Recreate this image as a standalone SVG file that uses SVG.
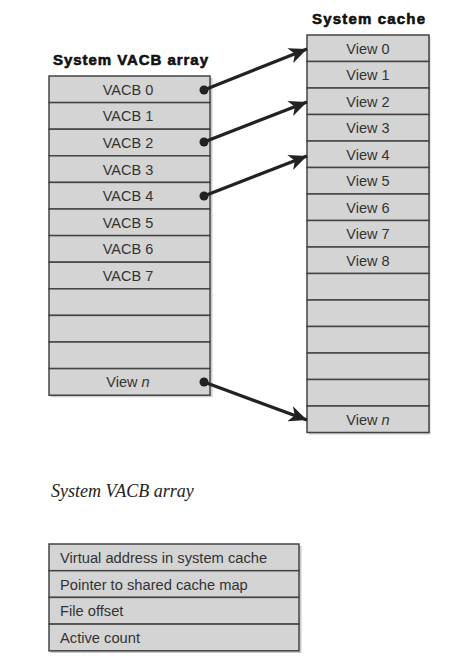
<svg xmlns="http://www.w3.org/2000/svg" width="460" height="665" viewBox="0 0 460 665">
<defs>
<marker id="ah" markerUnits="userSpaceOnUse" markerWidth="20" markerHeight="16" refX="18" refY="8" orient="auto">
<path d="M0,0 L18,8 L0,16 L5,8 Z" fill="#222"/>
</marker>
</defs>
<style>
.cell{fill:#d4d4d4;stroke:#444;stroke-width:1.5}
.shadow{fill:#aaa;opacity:0.6}
.t{font-family:"Liberation Sans",Arial,sans-serif;font-size:14.5px;fill:#333;text-anchor:middle}
.tl{font-family:"Liberation Sans",Arial,sans-serif;font-size:14.7px;fill:#333}
.title{font-family:"Liberation Sans",Arial,sans-serif;font-size:15px;font-weight:bold;fill:#111;stroke:#111;stroke-width:0.6}
.cap{font-family:"Liberation Serif","Times New Roman",serif;font-size:18px;font-style:italic;fill:#222}
.conn{stroke:#222;stroke-width:3.2;fill:none;marker-end:url(#ah)}
.dot{fill:#222}
</style>
<rect width="460" height="665" fill="#fff"/>
<text class="title" x="53" y="65" textLength="155">System VACB array</text>
<text class="title" x="312" y="24" textLength="113">System cache</text>
<g id="vacb-array">
<rect class="shadow" x="50.5" y="78" width="162" height="319.2"/>
<rect class="cell" x="49" y="76" width="161" height="26.6"/>
<rect class="cell" x="49" y="102.6" width="161" height="26.6"/>
<rect class="cell" x="49" y="129.2" width="161" height="26.6"/>
<rect class="cell" x="49" y="155.8" width="161" height="26.6"/>
<rect class="cell" x="49" y="182.4" width="161" height="26.6"/>
<rect class="cell" x="49" y="209" width="161" height="26.6"/>
<rect class="cell" x="49" y="235.6" width="161" height="26.6"/>
<rect class="cell" x="49" y="262.2" width="161" height="26.6"/>
<rect class="cell" x="49" y="288.8" width="161" height="26.6"/>
<rect class="cell" x="49" y="315.4" width="161" height="26.6"/>
<rect class="cell" x="49" y="342" width="161" height="26.6"/>
<rect class="cell" x="49" y="368.6" width="161" height="26.6"/>
<text class="t" x="128" y="94.8">VACB 0</text>
<text class="t" x="128" y="121.4">VACB 1</text>
<text class="t" x="128" y="148">VACB 2</text>
<text class="t" x="128" y="174.6">VACB 3</text>
<text class="t" x="128" y="201.2">VACB 4</text>
<text class="t" x="128" y="227.8">VACB 5</text>
<text class="t" x="128" y="254.4">VACB 6</text>
<text class="t" x="128" y="281">VACB 7</text>
<text class="t" x="128" y="387.4">View <tspan font-style="italic">n</tspan></text>
</g>
<g id="system-cache">
<rect class="shadow" x="308.5" y="37" width="122" height="397.5"/>
<rect class="cell" x="307" y="35" width="122" height="26.5"/>
<rect class="cell" x="307" y="61.5" width="122" height="26.5"/>
<rect class="cell" x="307" y="88" width="122" height="26.5"/>
<rect class="cell" x="307" y="114.5" width="122" height="26.5"/>
<rect class="cell" x="307" y="141" width="122" height="26.5"/>
<rect class="cell" x="307" y="167.5" width="122" height="26.5"/>
<rect class="cell" x="307" y="194" width="122" height="26.5"/>
<rect class="cell" x="307" y="220.5" width="122" height="26.5"/>
<rect class="cell" x="307" y="247" width="122" height="26.5"/>
<rect class="cell" x="307" y="273.5" width="122" height="26.5"/>
<rect class="cell" x="307" y="300" width="122" height="26.5"/>
<rect class="cell" x="307" y="326.5" width="122" height="26.5"/>
<rect class="cell" x="307" y="353" width="122" height="26.5"/>
<rect class="cell" x="307" y="379.5" width="122" height="26.5"/>
<rect class="cell" x="307" y="406" width="122" height="26.5"/>
<text class="t" x="368" y="53.8">View 0</text>
<text class="t" x="368" y="80.3">View 1</text>
<text class="t" x="368" y="106.8">View 2</text>
<text class="t" x="368" y="133.3">View 3</text>
<text class="t" x="368" y="159.8">View 4</text>
<text class="t" x="368" y="186.3">View 5</text>
<text class="t" x="368" y="212.8">View 6</text>
<text class="t" x="368" y="239.3">View 7</text>
<text class="t" x="368" y="265.8">View 8</text>
<text class="t" x="368" y="424.8">View <tspan font-style="italic">n</tspan></text>
</g>
<g id="connectors">
<line class="conn" x1="204" y1="90" x2="307" y2="49"/>
<line class="conn" x1="204" y1="142" x2="307" y2="102"/>
<line class="conn" x1="204" y1="196" x2="307" y2="156"/>
<line class="conn" x1="204" y1="382" x2="307" y2="420"/>
<circle class="dot" cx="204" cy="90" r="4.5"/>
<circle class="dot" cx="204" cy="142" r="4.5"/>
<circle class="dot" cx="204" cy="196" r="4.5"/>
<circle class="dot" cx="204" cy="382" r="4.5"/>
</g>
<text class="cap" x="51" y="497">System VACB array</text>
<g id="vacb-entry">
<rect class="shadow" x="50.5" y="546" width="251" height="107"/>
<rect class="cell" x="49" y="544" width="250" height="26.7"/>
<rect class="cell" x="49" y="570.7" width="250" height="26.7"/>
<rect class="cell" x="49" y="597.4" width="250" height="26.7"/>
<rect class="cell" x="49" y="624.1" width="250" height="26.7"/>
<text class="tl" x="60" y="562.8">Virtual address in system cache</text>
<text class="tl" x="60" y="589.5">Pointer to shared cache map</text>
<text class="tl" x="60" y="616.2">File offset</text>
<text class="tl" x="60" y="642.9">Active count</text>
</g>
</svg>
